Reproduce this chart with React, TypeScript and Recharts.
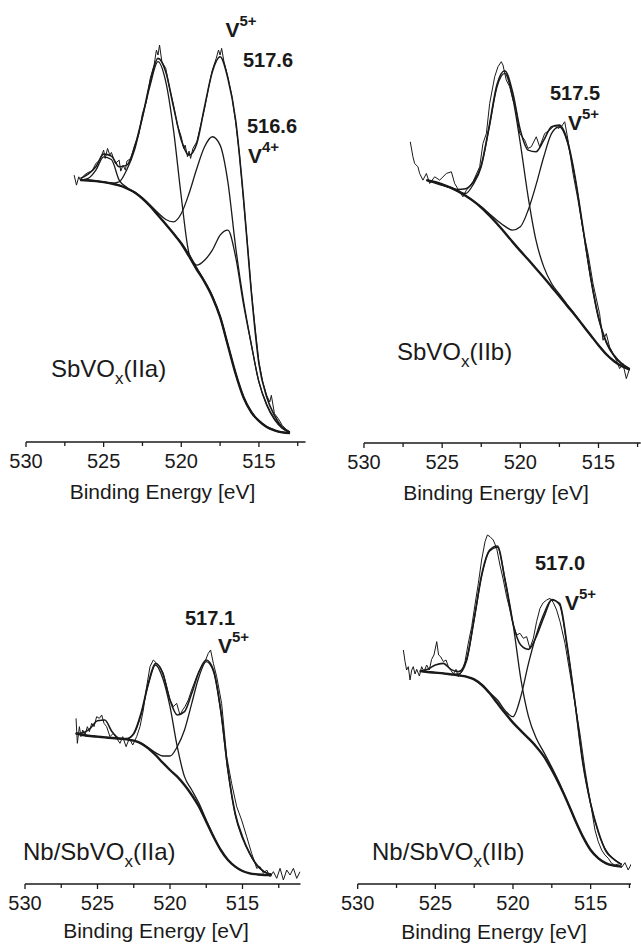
import { LineChart, Line, XAxis, YAxis } from 'recharts';

// ---- SbVOx(IIa) ----
const p1Energy = [526.5, 526, 525.5, 525, 524.5, 524, 523.5, 523, 522.5, 522, 521.5, 521, 520.5, 520, 519.5, 519, 518.5, 518, 517.5, 517, 516.5, 516, 515.5, 515, 514.5, 514, 513.5, 513];
const p1Background = [785, 784, 782, 779, 775, 769, 760, 748, 730, 707, 680, 653, 625, 595, 557, 517, 480, 435, 375, 290, 205, 135, 90, 63, 45, 35, 29, 27];
const p1Envelope = [790, 803, 825, 863, 857, 825, 830, 885, 975, 1080, 1150, 1110, 1005, 905, 860, 895, 1005, 1110, 1155, 1090, 965, 735, 455, 235, 135, 80, 45, 30];
const p1Sat = [785, 790, 815, 855, 847, 785, 763, 749, 730, 707, 680, 653, 625, 595, 557, 517, 480, 435, 375, 290, 205, 135, 90, 63, 45, 35, 29, 27];
const p1V2p12 = [786, 785, 783, 780, 776, 780, 817, 877, 973, 1070, 1140, 1080, 935, 735, 565, 522, 482, 438, 377, 291, 206, 136, 91, 64, 46, 36, 30, 28];
const p1V5 = [785, 784, 782, 779, 775, 769, 760, 748, 731, 710, 687, 667, 660, 685, 745, 820, 885, 915, 890, 780, 585, 425, 295, 180, 110, 67, 41, 28];
const p1V4 = [785, 784, 782, 779, 775, 769, 760, 748, 730, 707, 680, 653, 625, 597, 563, 530, 545, 575, 620, 635, 555, 415, 295, 180, 113, 70, 42, 28];
const p1RawEnergy = [526.9, 526.75, 526.6, 526.5, 526.25, 526, 525.75, 525.5, 525.25, 525, 524.9, 524.75, 524.6, 524.5, 524.25, 524, 523.9, 523.75, 523.6, 523.5, 523.25, 523, 522.75, 522.5, 522.25, 522, 521.75, 521.6, 521.5, 521.4, 521.25, 521, 520.75, 520.5, 520.25, 520, 519.85, 519.75, 519.6, 519.5, 519.4, 519.25, 519, 518.75, 518.5, 518.25, 518, 517.75, 517.6, 517.5, 517.4, 517.25, 517, 516.75, 516.5, 516.25, 516, 515.75, 515.5, 515.25, 515, 514.75, 514.5, 514.3, 514.2, 514, 513.75, 513.5, 513.25, 513];
const p1RawCounts = [800, 770, 795, 785, 800, 808, 812, 835, 845, 875, 850, 880, 860, 868, 835, 845, 812, 830, 815, 842, 850, 890, 920, 985, 1020, 1090, 1130, 1175, 1160, 1190, 1140, 1120, 1060, 1010, 950, 915, 880, 890, 855, 872, 850, 880, 900, 950, 1000, 1060, 1115, 1150, 1175, 1160, 1180, 1140, 1095, 1040, 960, 860, 730, 600, 460, 345, 240, 180, 140, 120, 140, 85, 70, 50, 38, 30];

// ---- SbVOx(IIb) ----
const p2Energy = [526, 525.5, 525, 524.5, 524, 523.5, 523, 522.5, 522, 521.5, 521, 520.5, 520, 519.5, 519, 518.5, 518, 517.5, 517, 516.5, 516, 515.5, 515, 514.5, 514, 513.5, 513];
const p2Background = [788, 783, 775, 766, 755, 741, 725, 706, 683, 658, 631, 603, 576, 550, 523, 496, 468, 440, 411, 383, 353, 323, 293, 266, 245, 230, 220];
const p2Envelope = [788, 780, 773, 766, 760, 762, 783, 833, 948, 1073, 1116, 1053, 938, 878, 873, 908, 948, 953, 908, 798, 648, 498, 378, 303, 263, 238, 223];
const p2V2p12 = [788, 783, 775, 766, 756, 748, 776, 828, 943, 1066, 1108, 1038, 898, 738, 608, 528, 478, 446, 415, 385, 353, 323, 293, 266, 245, 230, 220];
const p2V5 = [788, 783, 775, 766, 755, 741, 726, 708, 688, 668, 650, 638, 648, 698, 773, 858, 928, 948, 903, 793, 643, 493, 373, 300, 260, 236, 221];
const p2RawEnergy = [527.04, 526.87, 526.76, 526.55, 526.44, 526.23, 526.01, 525.8, 525.48, 525.16, 524.73, 524.41, 524.2, 523.88, 523.67, 523.45, 523.03, 522.6, 522.39, 522.17, 521.96, 521.64, 521.43, 521.22, 521.11, 520.9, 520.68, 520.47, 520.26, 520.04, 519.72, 519.51, 519.3, 518.98, 518.76, 518.44, 518.12, 517.8, 517.59, 517.38, 517.16, 516.95, 516.63, 516.31, 515.99, 515.67, 515.35, 514.93, 514.71, 514.5, 514.29, 513.86, 513.65, 513.44, 513.22, 513.01];
const p2RawCounts = [903, 858, 838, 828, 808, 788, 808, 778, 798, 788, 808, 813, 778, 753, 738, 758, 783, 828, 898, 928, 1018, 1098, 1128, 1143, 1133, 1088, 1068, 1028, 998, 928, 908, 883, 888, 918, 888, 928, 938, 953, 943, 948, 963, 908, 808, 728, 638, 568, 478, 388, 308, 328, 288, 248, 223, 238, 193, 223];

// ---- Nb/SbVOx(IIa) ----
const p3Energy = [526.5, 526, 525.5, 525, 524.5, 524, 523.5, 523, 522.5, 522, 521.5, 521, 520.5, 520, 519.5, 519, 518.5, 518, 517.5, 517, 516.5, 516, 515.5, 515, 514.5, 514, 513.5, 513];
const p3Background = [452, 447, 444, 442, 440, 438, 436, 434, 430, 422, 407, 387, 364, 342, 322, 297, 267, 232, 187, 142, 102, 72, 52, 39, 32, 29, 27, 27];
const p3Envelope = [452, 454, 467, 490, 492, 457, 437, 436, 452, 512, 602, 662, 632, 552, 507, 517, 572, 637, 672, 642, 522, 342, 212, 142, 92, 57, 37, 29];
const p3V2p12 = [452, 447, 444, 442, 440, 438, 436, 436, 450, 507, 597, 657, 617, 532, 412, 322, 282, 242, 192, 144, 102, 72, 52, 39, 32, 29, 27, 27];
const p3V5 = [452, 447, 444, 442, 440, 438, 436, 434, 430, 422, 409, 394, 384, 384, 412, 462, 542, 622, 667, 637, 517, 337, 207, 137, 90, 55, 36, 28];
const p3RawEnergy = [526.48, 526.39, 526.25, 526.14, 526.02, 525.86, 525.7, 525.56, 525.4, 525.24, 525.06, 524.87, 524.71, 524.55, 524.37, 524.14, 523.91, 523.68, 523.45, 523.26, 523.03, 522.8, 522.57, 522.3, 522.07, 521.84, 521.61, 521.38, 521.15, 520.92, 520.69, 520.46, 520.23, 520, 519.77, 519.54, 519.31, 519.13, 518.97, 518.74, 518.51, 518.16, 517.82, 517.59, 517.36, 517.2, 517.01, 516.78, 516.44, 516.09, 515.75, 515.4, 515.06, 514.71, 514.37, 514.21, 514.02, 513.79, 513.56, 513.33, 513.1, 512.87, 512.64, 512.41, 512.18, 511.95, 511.72, 511.49, 511.26, 511.03];
const p3RawCounts = [497, 422, 472, 442, 462, 447, 472, 457, 482, 472, 502, 497, 507, 482, 472, 442, 452, 437, 422, 442, 412, 437, 417, 442, 472, 522, 592, 652, 672, 662, 652, 632, 592, 552, 532, 542, 507, 522, 532, 552, 582, 622, 652, 667, 692, 702, 662, 622, 542, 382, 302, 232, 192, 142, 92, 72, 47, 52, 32, 42, 22, 37, 17, 47, 12, 42, 27, 47, 17, 37];

// ---- Nb/SbVOx(IIb) ----
const p4Energy = [526, 525.5, 525, 524.5, 524, 523.5, 523, 522.5, 522, 521.5, 521, 520.5, 520, 519.5, 519, 518.5, 518, 517.5, 517, 516.5, 516, 515.5, 515, 514.5, 514, 513.5, 513];
const p4Background = [639, 636, 634, 632, 629, 626, 622, 614, 597, 572, 542, 512, 484, 460, 437, 412, 382, 342, 297, 247, 192, 142, 102, 77, 62, 55, 52];
const p4Envelope = [639, 644, 657, 662, 644, 637, 672, 797, 932, 1002, 1014, 907, 782, 717, 704, 742, 802, 852, 842, 712, 542, 362, 242, 157, 97, 74, 59];
const p4V2p12 = [639, 636, 634, 632, 629, 630, 667, 792, 927, 999, 1010, 912, 782, 617, 502, 437, 394, 350, 302, 247, 192, 142, 102, 77, 62, 55, 52];
const p4V5 = [639, 636, 634, 632, 629, 626, 622, 614, 597, 574, 552, 520, 502, 562, 662, 747, 812, 854, 837, 707, 542, 367, 240, 154, 100, 74, 58];
const p4RawEnergy = [527.06, 526.95, 526.85, 526.74, 526.63, 526.52, 526.42, 526.31, 526.2, 526.03, 525.88, 525.73, 525.56, 525.39, 525.24, 525.09, 524.91, 524.79, 524.66, 524.48, 524.31, 524.16, 524.01, 523.84, 523.67, 523.52, 523.3, 523.09, 522.88, 522.66, 522.45, 522.23, 522.02, 521.8, 521.65, 521.48, 521.27, 521.05, 520.84, 520.62, 520.41, 520.19, 519.98, 519.76, 519.55, 519.33, 519.12, 518.91, 518.69, 518.48, 518.26, 518.05, 517.83, 517.61, 517.4, 517.19, 516.97, 516.65, 516.33, 516.01, 515.69, 515.36, 515.04, 514.72, 514.51, 514.29, 514.08, 513.86, 513.65, 513.43, 513.22, 513, 512.79, 512.58, 512.36];
const p4RawCounts = [702, 667, 642, 652, 612, 642, 652, 630, 644, 624, 652, 637, 657, 642, 674, 687, 727, 687, 682, 667, 672, 652, 642, 630, 644, 622, 637, 667, 722, 772, 837, 902, 972, 1027, 1047, 1042, 1032, 1007, 957, 912, 862, 822, 777, 747, 752, 737, 742, 707, 737, 787, 827, 844, 852, 857, 844, 822, 787, 722, 632, 542, 452, 342, 252, 162, 127, 102, 87, 77, 62, 57, 60, 50, 64, 42, 62];

const energyTicks = [530, 527.5, 525, 522.5, 520, 517.5, 515, 512.5];

const INK = '#1a1a1a';
const FONT = 'Arial, "Liberation Sans", Helvetica, sans-serif';

const pts = (es: number[], vs: number[]) => es.map((e, i) => ({ e, v: vs[i] }));

const EnergyTick = (props: any) => {
  const { x, y, payload } = props;
  const major = payload.value % 5 === 0;
  return (
    <g>
      <line x1={x} x2={x} y1={y} y2={y + (major ? 5 : 4)} stroke={INK} strokeWidth={1.3} />
      {major && (
        <text x={x} y={y + 26} textAnchor="middle" fontSize={20} fill={INK} fontFamily={FONT}>
          {payload.value}
        </text>
      )}
    </g>
  );
};

interface Fit {
  energy: number[];
  background: number[];
  envelope: number[];
  components: number[][];
  rawEnergy: number[];
  raw: number[];
}

interface PanelProps {
  fit: Fit;
  left: number;
  top: number;
  width: number;
  height: number;
  margin: { top: number; right: number; bottom: number; left: number };
  xMin: number;
  yMax: number;
}

function Spectrum({ fit, left, top, width, height, margin, xMin, yMax }: PanelProps) {
  return (
    <div style={{ position: 'absolute', left, top }}>
      <LineChart width={width} height={height} margin={margin}>
        <XAxis
          dataKey="e"
          type="number"
          domain={[xMin, 530]}
          reversed
          allowDataOverflow
          ticks={energyTicks}
          interval={0}
          tickSize={0}
          tickMargin={0}
          tickLine={false}
          tick={<EnergyTick />}
          axisLine={{ stroke: INK, strokeWidth: 1.3 }}
          height={30}
        />
        <YAxis type="number" domain={[0, yMax]} hide allowDataOverflow />
        <Line data={pts(fit.energy, fit.background)} dataKey="v" type="monotone" stroke={INK} strokeWidth={2.4} dot={false} isAnimationActive={false} />
        {fit.components.map((c, i) => (
          <Line key={i} data={pts(fit.energy, c)} dataKey="v" type="monotone" stroke={INK} strokeWidth={1.3} dot={false} isAnimationActive={false} />
        ))}
        <Line data={pts(fit.energy, fit.envelope)} dataKey="v" type="monotone" stroke={INK} strokeWidth={1.6} dot={false} isAnimationActive={false} />
        <Line data={pts(fit.rawEnergy, fit.raw)} dataKey="v" type="linear" stroke={INK} strokeWidth={1} dot={false} isAnimationActive={false} />
      </LineChart>
    </div>
  );
}

const Sample = ({ x, y, prefix, suffix }: { x: number; y: number; prefix: string; suffix: string }) => (
  <text x={x} y={y} fontSize={24} fill={INK} fontFamily={FONT}>
    {prefix}
    <tspan fontSize={17} dy={7}>x</tspan>
    <tspan dy={-7}>{suffix}</tspan>
  </text>
);

const Valence = ({ x, y, charge }: { x: number; y: number; charge: string }) => (
  <text x={x} y={y} fontSize={21} fontWeight="bold" fill={INK} fontFamily={FONT}>
    V<tspan fontSize={15} dy={-11}>{charge}</tspan>
  </text>
);

const Peak = ({ x, y, label }: { x: number; y: number; label: string }) => (
  <text x={x} y={y} fontSize={20} fontWeight="bold" fill={INK} fontFamily={FONT}>
    {label}
  </text>
);

const AxisTitle = ({ x, y }: { x: number; y: number }) => (
  <text x={x} y={y} textAnchor="middle" fontSize={21} fill={INK} fontFamily={FONT}>
    Binding Energy [eV]
  </text>
);

export default function App() {
  return (
    <div style={{ position: 'absolute', left: 0, top: 0, width: 641, height: 945, background: '#fff', overflow: 'hidden' }}>
      <Spectrum
        fit={{ energy: p1Energy, background: p1Background, envelope: p1Envelope, components: [p1Sat, p1V2p12, p1V5, p1V4], rawEnergy: p1RawEnergy, raw: p1RawCounts }}
        left={0}
        top={0}
        width={320}
        height={480}
        margin={{ top: 0, right: 14.5, bottom: 8, left: 26 }}
        xMin={512}
        yMax={1325}
      />
      <Spectrum
        fit={{ energy: p2Energy, background: p2Background, envelope: p2Envelope, components: [p2V2p12, p2V5], rawEnergy: p2RawEnergy, raw: p2RawCounts }}
        left={320}
        top={0}
        width={321}
        height={480}
        margin={{ top: 0, right: 0.3, bottom: 7, left: 44 }}
        xMin={512.3}
        yMax={1328}
      />
      <Spectrum
        fit={{ energy: p3Energy, background: p3Background, envelope: p3Envelope, components: [p3V2p12, p3V5], rawEnergy: p3RawEnergy, raw: p3RawCounts }}
        left={0}
        top={470}
        width={320}
        height={475}
        margin={{ top: 0, right: 19.5, bottom: 31, left: 25 }}
        xMin={511}
        yMax={1242}
      />
      <Spectrum
        fit={{ energy: p4Energy, background: p4Background, envelope: p4Envelope, components: [p4V2p12, p4V5], rawEnergy: p4RawEnergy, raw: p4RawCounts }}
        left={320}
        top={470}
        width={321}
        height={475}
        margin={{ top: 0, right: 10, bottom: 31, left: 37.7 }}
        xMin={512.4}
        yMax={1242}
      />
      <svg width={641} height={945} style={{ position: 'absolute', left: 0, top: 0, pointerEvents: 'none' }}>
        <AxisTitle x={162.5} y={499} />
        <AxisTitle x={496} y={500} />
        <AxisTitle x={156} y={938} />
        <AxisTitle x={494} y={939} />

        <Sample x={51} y={377} prefix="SbVO" suffix="(IIa)" />
        <Sample x={397} y={360} prefix="SbVO" suffix="(IIb)" />
        <Sample x={23} y={860} prefix="Nb/SbVO" suffix="(IIa)" />
        <Sample x={372} y={860} prefix="Nb/SbVO" suffix="(IIb)" />

        <Valence x={225.5} y={36.5} charge="5+" />
        <Peak x={243} y={67} label="517.6" />
        <Peak x={247} y={133} label="516.6" />
        <Valence x={248} y={163} charge="4+" />

        <Peak x={550} y={100} label="517.5" />
        <Valence x={568} y={130} charge="5+" />

        <Peak x={185} y={625} label="517.1" />
        <Valence x={218} y={653} charge="5+" />

        <Peak x={535} y={570} label="517.0" />
        <Valence x={565} y={610} charge="5+" />
      </svg>
    </div>
  );
}
